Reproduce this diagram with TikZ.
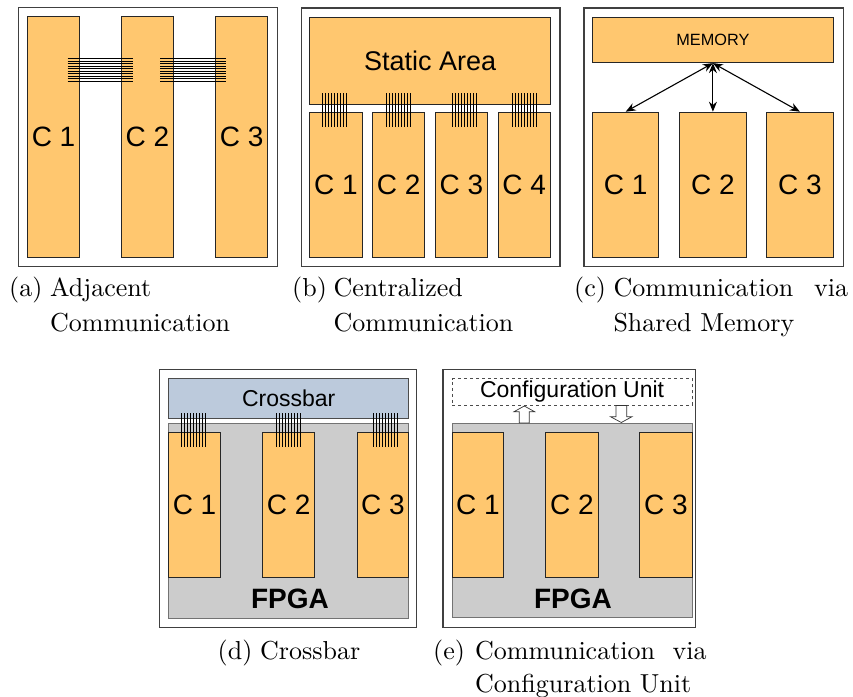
\documentclass[tikz,border=0pt]{standalone}
\usepackage{fontspec}
\newfontfamily\arial{Liberation Sans}
\newfontfamily\capfont{lmroman10-regular.otf}
\usetikzlibrary{arrows.meta}
\definecolor{orng}{HTML}{FFC76F}
\definecolor{xbar}{HTML}{BCCADC}
\definecolor{fpgagrey}{HTML}{CCCCCC}
\begin{document}
\begin{tikzpicture}[x=1pt,y=-1pt,
  frame/.style={draw=black!75, line width=1.2pt, fill=white, anchor=north west, inner sep=0pt},
  cbox/.style={draw=black!85, line width=0.8pt, fill=orng, anchor=north west, inner sep=0pt,
    font=\arial\fontsize{28}{30}\selectfont},
  bigbox/.style={cbox, font=\arial\fontsize{27}{30}\selectfont},
  membox/.style={cbox, font=\arial\fontsize{16.3}{18}\selectfont},
  xbox/.style={draw=black!70, line width=0.8pt, fill=xbar, anchor=north west, inner sep=0pt,
    font=\arial\fontsize{23}{26}\selectfont},
  cfgbox/.style={draw=black!70, line width=0.7pt, dashed, fill=white, anchor=north west, inner sep=0pt,
    font=\arial\fontsize{23}{26}\selectfont},
  fpgabox/.style={draw=black!55, line width=0.8pt, fill=fpgagrey, anchor=north west, inner sep=0pt},
  fpgalabel/.style={anchor=base, inner sep=0pt, font=\arial\bfseries\fontsize{28}{30}\selectfont},
  bus/.style={draw=black, line width=0.6pt},
  arr/.style={draw=black, line width=1.1pt, {Stealth[length=10pt,width=8pt]}-{Stealth[length=10pt,width=8pt]}},
  blockarrow/.style={draw=black!80, line width=0.7pt, fill=white},
  captxt/.style={anchor=base west, inner sep=0pt, font=\capfont\fontsize{26}{30}\selectfont},
  captxtr/.style={anchor=base east, inner sep=0pt, font=\capfont\fontsize{26}{30}\selectfont}]
\useasboundingbox (0,0) rectangle (853,696);

% ---------------- (a) Adjacent communication
\node[frame, minimum width=259pt, minimum height=259pt] (fa) at (18,7) {};
\node[cbox, minimum width=51.7pt, minimum height=241.3pt] (a1) at (27.3,16) {C 1};
\node[cbox, minimum width=52pt, minimum height=241.3pt] (a2) at (121,16) {C 2};
\node[cbox, minimum width=52pt, minimum height=241.3pt] (a3) at (215.3,16) {C 3};
\foreach \i in {0,...,9}{
  \draw[bus] (67.7,58.3+2.5*\i) -- (132.7,58.3+2.5*\i);
  \draw[bus] (160.3,58.3+2.5*\i) -- (226,58.3+2.5*\i);
}

% ---------------- (b) Centralized communication
\node[frame, minimum width=258.6pt, minimum height=258.7pt] (fb) at (300.7,7.3) {};
\node[bigbox, minimum width=241pt, minimum height=87.6pt] (sa) at (309.3,16.7) {Static Area};
\node[cbox, minimum width=52.4pt, minimum height=145.6pt] (b1) at (309.3,111.7) {C 1};
\node[cbox, minimum width=52pt, minimum height=145.6pt] (b2) at (372.3,111.7) {C 2};
\node[cbox, minimum width=52pt, minimum height=145.6pt] (b3) at (435,111.7) {C 3};
\node[cbox, minimum width=52.3pt, minimum height=145.6pt] (b4) at (497.7,111.7) {C 4};
\foreach \s in {322,386,452,512.7}{
  \foreach \i in {0,...,8}{
    \draw[bus] (\s+3*\i,93.3) -- (\s+3*\i,127.3);
  }
}

% ---------------- (c) Shared memory
\node[frame, minimum width=259.4pt, minimum height=258.7pt] (fc) at (583.3,7.3) {};
\node[membox, minimum width=240.4pt, minimum height=45.6pt] (mem) at (592.3,16.7) {MEMORY};
\node[cbox, minimum width=66pt, minimum height=145.6pt] (c1) at (592.3,111.7) {C 1};
\node[cbox, minimum width=66.4pt, minimum height=145.6pt] (c2) at (679.3,111.7) {C 2};
\node[cbox, minimum width=66.4pt, minimum height=145.6pt] (c3) at (766.3,111.7) {C 3};
\draw[arr] (mem.south) -- (c1.north);
\draw[arr] (mem.south) -- (c2.north);
\draw[arr] (mem.south) -- (c3.north);

% ---------------- (d) Crossbar
\node[frame, minimum width=257pt, minimum height=257.7pt] (fd) at (159,369) {};
\node[xbox, minimum width=240pt, minimum height=39.4pt] (xb) at (168.3,378.3) {Crossbar};
\node[fpgabox, minimum width=240pt, minimum height=195.6pt] (fpd) at (168.3,422.7) {};
\node[cbox, minimum width=51.7pt, minimum height=145.3pt] (d1) at (168.3,431.7) {C 1};
\node[cbox, minimum width=52pt, minimum height=145.3pt] (d2) at (262.3,431.7) {C 2};
\node[cbox, minimum width=51.6pt, minimum height=145.3pt] (d3) at (356.7,431.7) {C 3};
\node[fpgalabel] (fld) at (290,608.3) {FPGA};
\foreach \s in {181,276,373.3}{
  \foreach \i in {0,...,8}{
    \draw[bus] (\s+3*\i,413.3) -- (\s+3*\i,447.3);
  }
}

% ---------------- (e) Configuration unit
\node[frame, minimum width=252.7pt, minimum height=257.7pt] (fe) at (442.3,369) {};
\node[cfgbox, minimum width=240pt, minimum height=26.7pt] (cfg) at (451.7,378.3) {Configuration Unit};
\node[fpgabox, minimum width=240pt, minimum height=194.6pt] (fpe) at (451.7,422.7) {};
\node[cbox, minimum width=51.6pt, minimum height=145.3pt] (e1) at (451.7,431.7) {C 1};
\node[cbox, minimum width=52.4pt, minimum height=145.3pt] (e2) at (545.3,431.7) {C 2};
\node[cbox, minimum width=52.4pt, minimum height=145.3pt] (e3) at (639.3,431.7) {C 3};
\node[fpgalabel] (fle) at (573,608.3) {FPGA};
% hollow block arrows
\draw[blockarrow] (519.3,423) -- (519.3,411.7) -- (514,411.7) -- (524.3,406) -- (534.6,411.7)
  -- (529.3,411.7) -- (529.3,423) -- cycle;
\draw[blockarrow] (616,405.5) -- (616,416.7) -- (610.5,416.7) -- (621.3,422.5) -- (632,416.7)
  -- (626.7,416.7) -- (626.7,405.5) -- cycle;

% ---------------- captions
\node[captxt] (ca1) at (9,296.7) {(a)};
\node[captxt] (ca2) at (50,296.7) {Adjacent};
\node[captxt] (ca3) at (50,331) {Communication};
\node[captxt] (cb1) at (292,296.7) {(b)};
\node[captxt] (cb2) at (333.3,296.7) {Centralized};
\node[captxt] (cb3) at (333.3,331) {Communication};
\node[captxt] (cc1) at (574,296.7) {(c)};
\node[captxt] (cc2) at (613.3,296.7) {Communication};
\node[captxtr] (cc3) at (848.3,296.7) {via};
\node[captxt] (cc4) at (613.3,331) {Shared Memory};
\node[captxt] (cd1) at (217.5,659.5) {(d)};
\node[captxt] (cd2) at (260,659.5) {Crossbar};
\node[captxt] (ce1) at (433,659.5) {(e)};
\node[captxt] (ce2) at (475,659.5) {Communication};
\node[captxtr] (ce3) at (706.7,659.5) {via};
\node[captxt] (ce4) at (475,692.5) {Configuration Unit};
\end{tikzpicture}
\end{document}
